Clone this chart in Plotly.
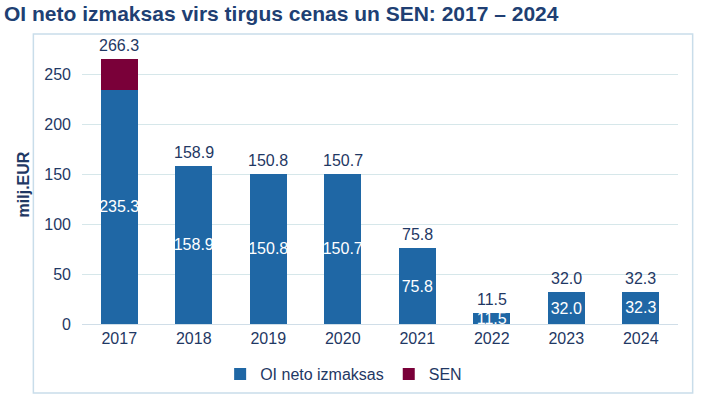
import plotly.graph_objects as go

years = ["2017", "2018", "2019", "2020", "2021", "2022", "2023", "2024"]
oi_values = [235.3, 158.9, 150.8, 150.7, 75.8, 11.5, 32.0, 32.3]
sen_values = [31.0, None, None, None, None, None, None, None]
totals = [266.3, 158.9, 150.8, 150.7, 75.8, 11.5, 32.0, 32.3]
y_ticks = [0, 50, 100, 150, 200, 250]

BLUE = "#1F67A5"
RED = "#7A0039"
NAVY = "#1F3864"
FONT = "Liberation Sans, Arial, sans-serif"

fig = go.Figure()
fig.add_trace(go.Bar(
    x=years, y=oi_values, name="OI neto izmaksas",
    marker=dict(color=BLUE, line=dict(width=0)),
    text=[f"{v:.1f}" for v in oi_values], textposition="inside", textangle=0,
    insidetextanchor="middle", constraintext="none",
    textfont=dict(color="white", size=16, family=FONT),
    hoverinfo="skip",
))
fig.add_trace(go.Bar(
    x=years, y=sen_values, name="SEN",
    marker=dict(color=RED, line=dict(width=0)),
    hoverinfo="skip",
))

# category axis: annotation x uses the category index
annotations = [
    dict(x=i, y=tot, xref="x", yref="y", text=f"{tot:.1f}", showarrow=False,
         yanchor="bottom", yshift=3, font=dict(color=NAVY, size=16, family=FONT))
    for i, tot in enumerate(totals)
]

fig.update_layout(
    width=702, height=398,
    barmode="stack", bargap=0.5,
    paper_bgcolor="white", plot_bgcolor="white",
    margin=dict(l=82, r=24, t=45, b=74, autoexpand=False),
    font=dict(family=FONT, color=NAVY, size=16),
    title=dict(text="<b>OI neto izmaksas virs tirgus cenas un SEN: 2017 – 2024</b>",
               x=0, xanchor="left", xref="container", pad=dict(l=4),
               y=0.965, yanchor="middle", yref="container",
               font=dict(size=21, color="#203F73", family=FONT)),
    legend=dict(orientation="h", x=0.439, xanchor="center", y=-0.18, yanchor="middle",
                font=dict(size=16, color=NAVY, family=FONT), itemwidth=30,
                traceorder="normal", bgcolor="rgba(0,0,0,0)"),
    xaxis=dict(type="category", showgrid=False, showline=True, linecolor="#D0DEE8", linewidth=1,
               ticks="", tickfont=dict(size=16, color=NAVY), automargin=False),
    yaxis=dict(range=[0, 280], tickvals=y_ticks, showgrid=True, gridcolor="#D6E7EA",
               gridwidth=1, zeroline=False, showline=False, ticks="", automargin=False,
               tickfont=dict(size=16, color=NAVY), ticklabelstandoff=10,
               title=dict(text="<b>milj.EUR</b>", font=dict(size=16, color=NAVY), standoff=10)),
    annotations=annotations,
    shapes=[dict(type="rect", xref="paper", yref="paper",
                 x0=-0.0816, x1=1.0246, y0=-0.247, y1=1.039,
                 line=dict(color="#C9DDEA", width=1.5), fillcolor="rgba(0,0,0,0)", layer="below")],
)

fig.write_html("out.html", config={"displayModeBar": False},
               post_script="document.body.style.margin='0';")
